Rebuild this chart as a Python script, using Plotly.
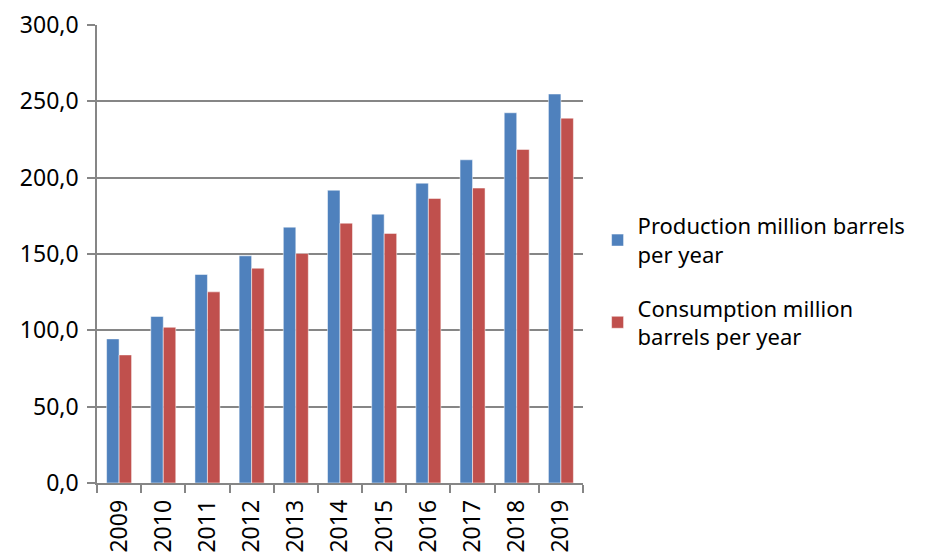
import plotly.graph_objects as go

years = ["2009", "2010", "2011", "2012", "2013", "2014", "2015", "2016", "2017", "2018", "2019"]
production = [94.4, 109.1, 136.6, 148.8, 167.6, 191.8, 176.1, 196.4, 211.7, 242.5, 254.8]
consumption = [83.9, 102.0, 125.2, 140.7, 150.4, 170.2, 163.5, 186.4, 193.2, 218.5, 239.0]
names = ["Production million barrels<br>per year", "Consumption million<br>barrels per year"]
y_ticks = [0, 50, 100, 150, 200, 250, 300]

FONT = "Noto Sans"
GRID = "#868686"

fig = go.Figure()
fig.add_trace(go.Bar(x=years, y=production, name=names[0], legendgroup="p",
                     marker=dict(color="#4F81BD", line=dict(color="rgba(255,255,255,0.5)", width=1))))
fig.add_trace(go.Bar(x=years, y=consumption, name=names[1], legendgroup="c",
                     marker=dict(color="#C0504D", line=dict(color="rgba(255,255,255,0.5)", width=1))))

fig.update_layout(
    width=928, height=553,
    margin=dict(l=97, r=345, t=25, b=70),
    paper_bgcolor="white", plot_bgcolor="white",
    barmode="group", bargap=0.434, bargroupgap=0,
    separators=",.",
    font=dict(family=FONT, size=23, color="#000000"),
    legend=dict(x=1.03, y=0.44, xanchor="left", yanchor="middle",
                font=dict(family=FONT, size=22, color="#000000"),
                tracegroupgap=22, itemwidth=30),
    xaxis=dict(type="category", tickangle=-90, showline=True, linecolor=GRID, linewidth=1.5,
               ticks="outside", ticklen=8, tickcolor=GRID, tickwidth=1.5, tickson="boundaries",
               showgrid=False, tickfont=dict(size=23), ticklabelstandoff=6, automargin=False),
    yaxis=dict(range=[0, 300], tickvals=y_ticks, tickformat=".1f", showline=True, linecolor=GRID,
               linewidth=1.5, ticks="outside", ticklen=8, tickcolor=GRID, tickwidth=1.5,
               showgrid=True, gridcolor=GRID, gridwidth=1.5, zeroline=False,
               tickfont=dict(size=23), ticklabelstandoff=4, automargin=False),
)

fig.write_html("out.html")
